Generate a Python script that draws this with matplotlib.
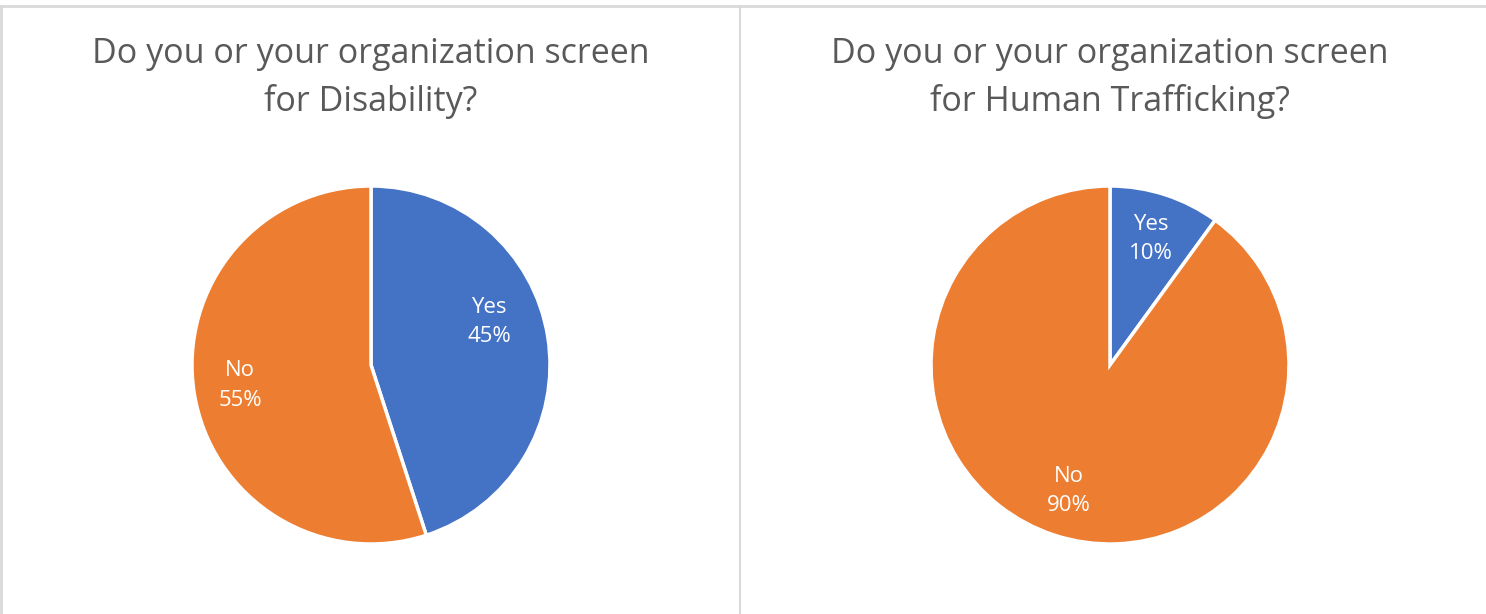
import matplotlib
matplotlib.use("Agg")
import matplotlib.pyplot as plt
from matplotlib.lines import Line2D

plt.rcParams['font.family'] = ['Open Sans', 'DejaVu Sans']

titles = ["Do you or your organization screen\nfor Disability?",
          "Do you or your organization screen\nfor Human Trafficking?"]
answers = ["Yes", "No"]
disability = [45, 55]
trafficking = [10, 90]
colors = ["#4472C4", "#ED7D31"]

W, H = 1486, 614
fig = plt.figure(figsize=(W / 100, H / 100), dpi=100)
fig.patch.set_facecolor("white")

# panel frame lines
grey = "#D9D9D9"
fig.add_artist(Line2D([0, 1], [1 - 6 / H, 1 - 6 / H], color=grey, lw=2))
fig.add_artist(Line2D([1 / W, 1 / W], [0, 1 - 6 / H], color=grey, lw=2))
fig.add_artist(Line2D([740 / W, 740 / W], [0, 1 - 6 / H], color=grey, lw=1.5))

centers = [371, 1110]
r = 179
for i, (cx, title, vals) in enumerate(zip(centers, titles, [disability, trafficking])):
    ax = fig.add_axes([(cx - r) / W, (H - 365 - r) / H, 2 * r / W, 2 * r / H])
    wedges, texts = ax.pie(vals, labels=[f"{a}\n{v}%" for a, v in zip(answers, vals)],
                           colors=colors, startangle=90, counterclock=False,
                           labeldistance=0.74,
                           wedgeprops=dict(edgecolor="white", linewidth=2.5),
                           textprops=dict(color="white", fontsize=16, ha="center",
                                          va="center", linespacing=1.55))
    if i == 0:
        # Excel "best fit" puts this label a bit higher
        texts[0].set_position((0.66, 0.24))
    ax.set_xlim(-1, 1)
    ax.set_ylim(-1, 1)
    ax.set_aspect("equal")
    fig.text(cx / W, 1 - 78 / H, title, ha="center", va="center",
             fontsize=24.5, color="#595959", linespacing=1.45)

fig.savefig("out.png", dpi=100, facecolor="white")
